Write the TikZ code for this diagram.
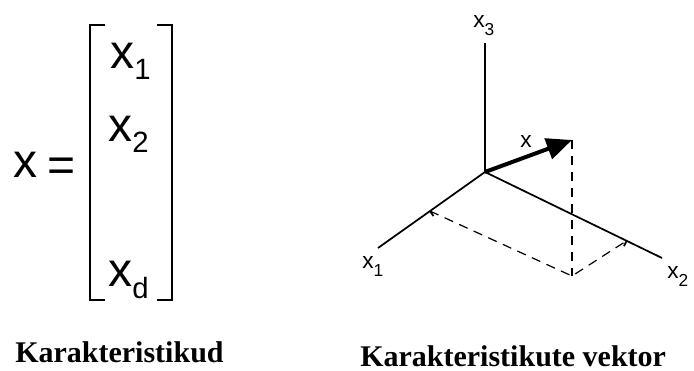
\documentclass[tikz,border=0pt]{standalone}
\usepackage{fontspec}
\setmainfont{Liberation Serif}
\newfontfamily\sansfont{Liberation Sans}
\usetikzlibrary{arrows.meta, calc}

\newcommand{\comp}[1]{\fontsize{36}{36}\selectfont x\raisebox{-9pt}{\fontsize{22}{22}\selectfont #1}}
\newcommand{\axislabel}[1]{\fontsize{17}{17}\selectfont x\raisebox{-6pt}{\fontsize{13}{13}\selectfont #1}}

\tikzset{
	entry/.style={inner sep=0pt, anchor=base west, font=\sansfont},
	axisline/.style={line width=1.3pt},
	proj/.style={line width=0.9pt, dash pattern=on 7pt off 5pt},
	caption/.style={inner sep=0pt, anchor=base west, font=\fontsize{22.5}{22.5}\selectfont\bfseries}
}

\begin{document}
\begin{tikzpicture}[x=0.75pt, y=-0.75pt]
	\useasboundingbox (0,0) rectangle (694,371);

	% the column vector
	\node[entry] (lhs) at (13,177) {\fontsize{36}{36}\selectfont x};
	\node[entry] (eq)  at (47,181) {\fontsize{36}{36}\selectfont =};

	\node[entry] (x1) at (110,68)  {\comp{1}};
	\node[entry] (x2) at (108,141) {\comp{2}};
	\node[entry] (xd) at (108,286) {\comp{d}};

	\draw[line width=1.9pt] (105,25) -- (90,25) -- (90,300) -- (105,300);
	\draw[line width=1.9pt] (157,25) -- (172,25) -- (172,300) -- (157,300);

	% the feature space
	\coordinate (O)    at (485,172);
	\coordinate (e3)   at (485,43);
	\coordinate (e1)   at (378,248);
	\coordinate (e2)   at (662,258);
	\coordinate (tip)  at (572,140);
	\coordinate (foot) at (572,276);
	\coordinate (t1)   at ($(O)!0.514!(e1)$);
	\coordinate (t2)   at ($(O)!0.8!(e2)$);

	\draw[axisline] (O) -- (e3);
	\draw[axisline] (O) -- (e1);
	\draw[axisline] (O) -- (e2);
	\draw[axisline] (t1) -- ++(3.5,5);
	\draw[axisline] (t2) -- ++(-2.6,5.4);

	\draw[proj] (t1) -- (foot) -- (t2);
	\draw[proj] (tip) -- (foot);
	\draw[line width=3pt, -{Triangle[length=19pt,width=16pt]}] (O) -- (tip);

	\node[entry] (l3) at (473,27)  {\axislabel{3}};
	\node[entry] (l1) at (362,268) {\axislabel{1}};
	\node[entry] (l2) at (667,278) {\axislabel{2}};
	\node[entry] (lx) at (520,147) {\fontsize{17}{17}\selectfont x};

	% captions
	\node[caption] (left)  at (15,362)  {Karakteristikud};
	\node[caption] (right) at (360,366) {Karakteristikute vektor};
\end{tikzpicture}
\end{document}
